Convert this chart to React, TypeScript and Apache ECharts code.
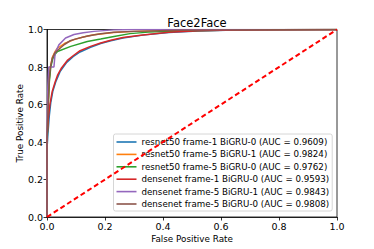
import React, { useEffect, useRef } from "react";
import * as echarts from "echarts";

const titleText = "Face2Face";
const xName = "False Positive Rate";
const yName = "True Positive Rate";
const tickValues = [0, 0.2, 0.4, 0.6, 0.8, 1.0];

const seriesNames = [
  "resnet50 frame-1 BiGRU-0 (AUC = 0.9609)",
  "resnet50 frame-5 BiGRU-1 (AUC = 0.9824)",
  "resnet50 frame-5 BiGRU-0 (AUC = 0.9762)",
  "densenet frame-1 BiGRU-0 (AUC = 0.9593)",
  "densenet frame-5 BiGRU-1 (AUC = 0.9843)",
  "densenet frame-5 BiGRU-0 (AUC = 0.9808)",
];
const seriesColors = ["#1f77b4", "#ff7f0e", "#2ca02c", "#d62728", "#9467bd", "#8c564b"];

const resnetF1B0 = [[0,0],[0,0.36],[0.003,0.44],[0.008,0.54],[0.013,0.61],[0.02,0.67],[0.03,0.72],[0.045,0.775],[0.068,0.825],[0.09,0.855],[0.114,0.88],[0.15,0.905],[0.185,0.925],[0.22,0.94],[0.262,0.955],[0.33,0.97],[0.42,0.984],[0.52,0.992],[0.65,0.997],[0.8,0.999],[1,1]];
const resnetF5B1 = [[0,0],[0,0.4],[0.004,0.6],[0.008,0.74],[0.012,0.8],[0.018,0.85],[0.027,0.88],[0.036,0.9],[0.06,0.925],[0.093,0.946],[0.125,0.96],[0.162,0.972],[0.23,0.984],[0.3,0.99],[0.45,0.995],[0.6,0.998],[1,1]];
const resnetF5B0 = [[0,0],[0,0.38],[0.004,0.58],[0.008,0.72],[0.013,0.8],[0.02,0.845],[0.03,0.872],[0.036,0.883],[0.082,0.91],[0.139,0.936],[0.185,0.949],[0.231,0.963],[0.286,0.978],[0.35,0.986],[0.45,0.992],[0.6,0.996],[0.75,0.999],[1,1]];
const densenetF1B0 = [[0,0],[0,0.42],[0.004,0.52],[0.01,0.6],[0.018,0.67],[0.028,0.72],[0.036,0.755],[0.05,0.795],[0.07,0.835],[0.09,0.86],[0.114,0.887],[0.15,0.91],[0.185,0.928],[0.22,0.943],[0.262,0.957],[0.33,0.971],[0.42,0.985],[0.52,0.993],[0.65,0.997],[0.8,0.999],[1,1]];
const densenetF5B1 = [[0,0],[0,0.45],[0.003,0.7],[0.006,0.8],[0.024,0.8],[0.028,0.874],[0.041,0.918],[0.064,0.955],[0.093,0.973],[0.125,0.983],[0.162,0.99],[0.23,0.998],[0.3,1],[1,1]];
const densenetF5B0 = [[0,0],[0,0.4],[0.004,0.6],[0.008,0.74],[0.012,0.8],[0.018,0.845],[0.027,0.875],[0.045,0.9],[0.06,0.92],[0.08,0.94],[0.1,0.95],[0.14,0.965],[0.185,0.977],[0.23,0.985],[0.3,0.99],[0.45,0.996],[0.6,0.998],[1,1]];
const chanceLine = [[0,0],[1,1]];

const seriesData = [resnetF1B0, resnetF5B1, resnetF5B0, densenetF1B0, densenetF5B1, densenetF5B0];

const FONT = "DejaVu Sans";

export default function App() {
  const ref = useRef<HTMLDivElement>(null);
  useEffect(() => {
    if (!ref.current) return;
    const chart = echarts.init(ref.current, null, { renderer: "svg" });
    const axisCommon = {
      type: "value" as const,
      min: 0,
      max: 1,
      interval: 0.2,
      nameLocation: "middle" as const,
      nameMoveOverlap: false,
      nameTextStyle: { fontFamily: FONT, fontSize: 8.8, color: "#000" },
      axisLine: { show: true, lineStyle: { color: "#000", width: 0.8 } },
      axisTick: { show: true, inside: false, length: 3.5, lineStyle: { color: "#000", width: 0.8 } },
      axisLabel: {
        fontFamily: FONT,
        fontSize: 9.5,
        color: "#000",
        margin: 4,
        formatter: (v: number) => (tickValues.includes(Math.round(v * 10) / 10) ? v.toFixed(1) : ""),
      },
      splitLine: { show: false },
    };
    chart.setOption({
      animation: false,
      backgroundColor: "#fff",
      title: {
        text: titleText,
        left: 192,
        top: 12,
        textAlign: "center",
        textStyle: { fontFamily: FONT, fontSize: 11.5, fontWeight: "normal", color: "#000" },
      },
      grid: {
        left: 47,
        top: 29.5,
        width: 290,
        height: 187.5,
        show: true,
        borderColor: "#000",
        borderWidth: 0.8,
        backgroundColor: "transparent",
      },
      xAxis: { ...axisCommon, name: xName, nameGap: 17 },
      yAxis: { ...axisCommon, name: yName, nameGap: 23 },
      legend: {
        data: seriesNames,
        orient: "vertical",
        left: 113.5,
        top: 134,
        padding: [3, 3, 2, 3],
        icon: "rect",
        itemWidth: 20,
        itemHeight: 1.6,
        itemGap: 2.4,
        backgroundColor: "rgba(255,255,255,0.8)",
        borderColor: "#cccccc",
        borderWidth: 0.8,
        borderRadius: 2,
        textStyle: { fontFamily: FONT, fontSize: 8.7, lineHeight: 10, color: "#000", padding: [0, 0, 0, 0] },
      },
      series: [
        ...seriesData.map((d, i) => ({
          name: seriesNames[i],
          type: "line",
          data: d,
          symbol: "none",
          showSymbol: false,
          lineStyle: { color: seriesColors[i], width: 1.5 },
          itemStyle: { color: seriesColors[i] },
          z: 2 + i,
        })),
        {
          name: "chance",
          type: "line",
          data: chanceLine,
          symbol: "none",
          lineStyle: { color: "#ff0000", width: 2, type: [5, 3] },
          z: 10,
        },
      ],
    });
    return () => chart.dispose();
  }, []);
  return <div ref={ref} style={{ width: 374, height: 249, position: "absolute", left: 0, top: 0 }} />;
}
